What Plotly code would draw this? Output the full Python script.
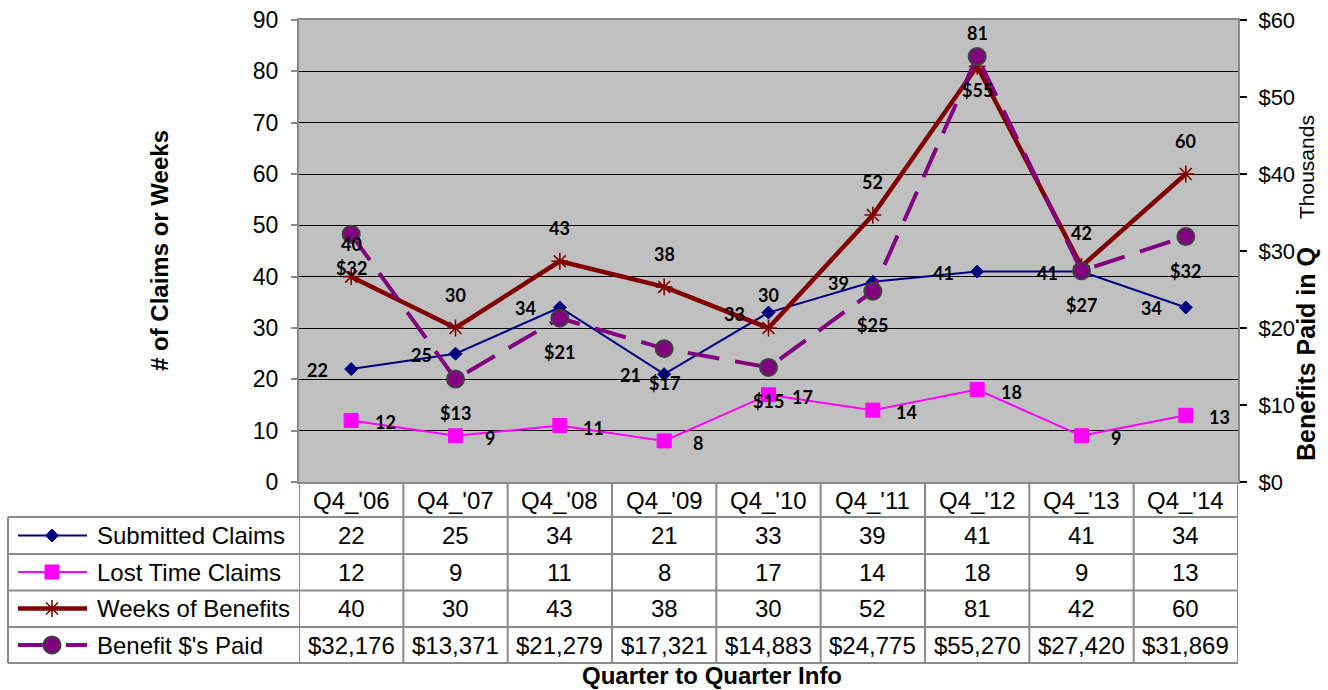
import plotly.graph_objects as go

# ---------------- data ----------------
categories = ["Q4_'06", "Q4_'07", "Q4_'08", "Q4_'09", "Q4_'10",
              "Q4_'11", "Q4_'12", "Q4_'13", "Q4_'14"]
submitted_claims = [22, 25, 34, 21, 33, 39, 41, 41, 34]
lost_time_claims = [12, 9, 11, 8, 17, 14, 18, 9, 13]
weeks_of_benefits = [40, 30, 43, 38, 30, 52, 81, 42, 60]
benefits_paid = [32176, 13371, 21279, 17321, 14883, 24775, 55270, 27420, 31869]
series_names = ["Submitted Claims", "Lost Time Claims", "Weeks of Benefits", "Benefit $'s Paid"]
left_ticks = [0, 10, 20, 30, 40, 50, 60, 70, 80, 90]
right_tick_vals = [0, 10000, 20000, 30000, 40000, 50000, 60000]
right_tick_text = ["$0", "$10", "$20", "$30", "$40", "$50", "$60"]

# ---------------- layout constants ----------------
W, H = 1328, 690
PL, PR, PT, PB = 299, 1238, 20, 482
TABLE_LEFT = 8
ROW_LINES = [517, 554, 590.5, 627, 663]
ROW_CENTERS = [535.5, 572, 608.5, 645]
HEADER_CENTER = 500

def fx(p):
    return p / W

def fy(p):
    return 1 - p / H

ARIAL = "Liberation Sans, Arial, sans-serif"
LABEL_FONT = "Lato, Calibri, sans-serif"
GRID_GRAY = "#8A8A8A"

C_SUB = "#000080"
C_LOST = "#FF00FF"
C_WEEKS = "#800000"
C_BEN = "#800080"

styles = [
    dict(line=dict(color=C_SUB, width=2),
         marker=dict(symbol="diamond", size=10, color=C_SUB, line=dict(color=C_SUB, width=1))),
    dict(line=dict(color=C_LOST, width=2),
         marker=dict(symbol="square", size=14, color=C_LOST, line=dict(color=C_LOST, width=1))),
    dict(line=dict(color=C_WEEKS, width=4.5),
         marker=dict(symbol="asterisk-open", size=14, color=C_WEEKS, line=dict(color=C_WEEKS, width=1.6))),
    dict(line=dict(color=C_BEN, width=4, dash="32px,16px"),
         marker=dict(symbol="circle", size=17, color=C_BEN, line=dict(color="#404040", width=2))),
]

fig = go.Figure()

series_values = [submitted_claims, lost_time_claims, weeks_of_benefits, benefits_paid]
for i, (name, vals) in enumerate(zip(series_names, series_values)):
    fig.add_trace(go.Scatter(
        x=categories, y=vals, name=name, mode="lines+markers",
        yaxis="y2" if i == 3 else "y",
        line=styles[i]["line"], marker=styles[i]["marker"],
        showlegend=False, hoverinfo="skip",
    ))

annotations = []

# data labels
label_font = dict(family=LABEL_FONT, size=18, color="black", weight="bold")
for c, v in zip(categories, submitted_claims):
    annotations.append(dict(x=c, y=v, xref="x", yref="y", text=f"<b>{v}</b>", showarrow=False,
                            xshift=-34, yshift=-1, font=label_font,
                            xanchor="center", yanchor="middle"))
for c, v in zip(categories, lost_time_claims):
    annotations.append(dict(x=c, y=v, xref="x", yref="y", text=f"<b>{v}</b>", showarrow=False,
                            xshift=34, yshift=-2, font=label_font,
                            xanchor="center", yanchor="middle"))
for c, v in zip(categories, weeks_of_benefits):
    annotations.append(dict(x=c, y=v, xref="x", yref="y", text=f"<b>{v}</b>", showarrow=False,
                            yshift=33, font=label_font, xanchor="center", yanchor="middle"))
for c, v in zip(categories, benefits_paid):
    annotations.append(dict(x=c, y=v, xref="x", yref="y2", text=f"<b>${round(v / 1000)}</b>",
                            showarrow=False, yshift=-34, font=label_font,
                            xanchor="center", yanchor="middle"))

# table text
table_font = dict(family=ARIAL, size=24, color="black")
for c in categories:
    annotations.append(dict(x=c, y=fy(HEADER_CENTER), xref="x", yref="paper", text=c,
                            showarrow=False, font=table_font, xanchor="center", yanchor="middle"))
row_texts = [
    [str(v) for v in submitted_claims],
    [str(v) for v in lost_time_claims],
    [str(v) for v in weeks_of_benefits],
    [f"${v:,}" for v in benefits_paid],
]
for r, texts in enumerate(row_texts):
    for c, t in zip(categories, texts):
        annotations.append(dict(x=c, y=fy(ROW_CENTERS[r]), xref="x", yref="paper", text=t,
                                showarrow=False, font=table_font,
                                xanchor="center", yanchor="middle"))
    annotations.append(dict(x=fx(95), y=fy(ROW_CENTERS[r]), xref="paper", yref="paper",
                            text=series_names[r], showarrow=False, font=table_font,
                            xanchor="left", yanchor="middle"))

# titles
title_common = dict(xref="paper", yref="paper", showarrow=False, xanchor="center")
annotations.append(dict(x=fx(160), y=fy(251), text="<b># of Claims or Weeks</b>", textangle=-90,
                        yanchor="middle", font=dict(family=ARIAL, size=24, color="black"),
                        **title_common))
annotations.append(dict(x=fx(1306), y=fy(354), text="<b>Benefits Paid in Q</b>", textangle=-90,
                        yanchor="middle", font=dict(family=ARIAL, size=25, color="black"),
                        **title_common))
annotations.append(dict(x=fx(1306), y=fy(167), text="Thousands", textangle=-90,
                        yanchor="middle", font=dict(family=ARIAL, size=21, color="black"),
                        **title_common))
annotations.append(dict(x=fx(712), y=0, text="<b>Quarter to Quarter Info</b>",
                        yanchor="bottom", borderpad=0,
                        font=dict(family=ARIAL, size=24, color="black"), **title_common))

# shapes
shapes = [dict(type="rect", xref="x domain", yref="y domain", x0=0, x1=1, y0=0, y1=1,
               fillcolor="#C0C0C0", line=dict(width=0), layer="below")]
tl = dict(color=GRID_GRAY, width=2)
n = len(categories)
for i in range(n + 1):
    shapes.append(dict(type="line", xref="x", yref="paper", x0=i - 0.5, x1=i - 0.5,
                       y0=fy(PB), y1=fy(ROW_LINES[-1]), line=tl))
shapes.append(dict(type="line", xref="paper", yref="paper", x0=fx(TABLE_LEFT), x1=fx(TABLE_LEFT),
                   y0=fy(ROW_LINES[0]), y1=fy(ROW_LINES[-1]), line=tl))
for yl in ROW_LINES:
    shapes.append(dict(type="line", xref="paper", yref="paper", x0=fx(TABLE_LEFT), x1=fx(PR),
                       y0=fy(yl), y1=fy(yl), line=tl))

# legend samples in the table (pixel overlay axes)
for r in range(4):
    yc = ROW_CENTERS[r]
    fig.add_trace(go.Scatter(x=[18, 87], y=[yc, yc], mode="lines", line=styles[r]["line"],
                             xaxis="x3", yaxis="y3", showlegend=False, hoverinfo="skip"))
    fig.add_trace(go.Scatter(x=[52], y=[yc], mode="markers", marker=styles[r]["marker"],
                             xaxis="x3", yaxis="y3", showlegend=False, hoverinfo="skip"))

fig.update_layout(
    width=W, height=H, autosize=False,
    margin=dict(l=0, r=0, t=0, b=0, autoexpand=False),
    paper_bgcolor="white", plot_bgcolor="rgba(0,0,0,0)",
    font=dict(family=ARIAL, color="black"),
    showlegend=False,
    xaxis=dict(domain=[fx(PL), fx(PR)], type="category", range=[-0.5, n - 0.5],
               showticklabels=False, ticks="", showgrid=False, zeroline=False,
               showline=True, linecolor=GRID_GRAY, linewidth=2, mirror=True, fixedrange=True,
               anchor="y", automargin=False),
    yaxis=dict(domain=[fy(PB), fy(PT)], range=[0, 90], tickvals=left_ticks,
               ticks="outside", ticklen=6, tickcolor=GRID_GRAY, tickwidth=1.5,
               showgrid=True, gridcolor="black", gridwidth=1, zeroline=False,
               showline=True, linecolor=GRID_GRAY, linewidth=2,
               tickfont=dict(family=ARIAL, size=23, color="black"),
               ticklabelstandoff=8, fixedrange=True, anchor="x", automargin=False),
    yaxis2=dict(overlaying="y", side="right", range=[0, 60000], tickvals=right_tick_vals,
                ticktext=right_tick_text, ticks="outside", ticklen=7, tickcolor="black",
                tickwidth=1.5, showgrid=False, zeroline=False, showline=True,
                linecolor=GRID_GRAY, linewidth=2, anchor="x", automargin=False,
                tickfont=dict(family=ARIAL, size=22, color="black"),
                ticklabelstandoff=7, fixedrange=True),
    xaxis3=dict(domain=[0, 1], range=[0, W], visible=False, fixedrange=True, anchor="y3",
                automargin=False),
    yaxis3=dict(domain=[0, 1], range=[H, 0], visible=False, fixedrange=True, anchor="x3",
                automargin=False),
    annotations=annotations,
    shapes=shapes,
)

fig.write_html("out.html", config={"displayModeBar": False},
               post_script="document.body.style.margin='0px';document.body.style.overflow='hidden';")
